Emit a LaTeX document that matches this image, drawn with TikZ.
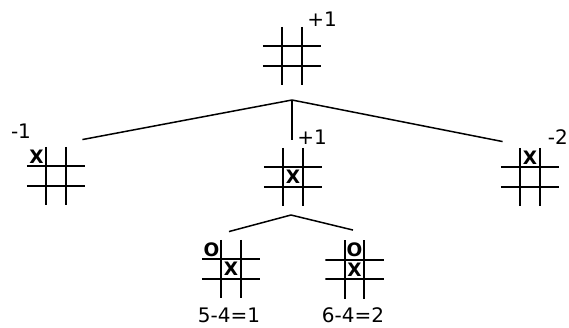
\documentclass[tikz,border=0pt]{standalone}
\usepackage{fontspec}
\setmainfont{DejaVu Sans}
\usetikzlibrary{calc}

\tikzset{
  board/.style={minimum size=58.5pt, inner sep=0pt, path picture={
      \foreach \k in {-1,1} {
        \draw[line width=2pt] ([xshift=\k*9.75pt]path picture bounding box.north)
          -- ([xshift=\k*9.75pt]path picture bounding box.south);
        \draw[line width=2pt] ([yshift=\k*9.75pt]path picture bounding box.west)
          -- ([yshift=\k*9.75pt]path picture bounding box.east);
      }
    }},
  xo/.style={font=\fontsize{18.5}{18.5}\selectfont\bfseries, inner sep=0pt},
  score/.style={font=\fontsize{20}{20}\selectfont, inner sep=0pt},
  branch/.style={line width=1.5pt}
}

\begin{document}
\begin{tikzpicture}[x=1pt, y=-1pt]
  \useasboundingbox (0,0) rectangle (569,327);

  % root
  \node[board] (root) at (292,56) {};
  \node[score] (root-val) at (322,19) {+1};
  \coordinate (split1) at (292,100);

  % first move of X
  \node[board] (corner) at (56,176) {};
  \node[xo] (corner-x) at ($(corner)+(-19.5,-19.5)$) {X};
  \node[score] (corner-val) at (21,131) {-1};

  \node[board] (center) at (293,177) {};
  \node[xo] (center-x) at (center) {X};
  \node[score] (center-val) at (312,137) {+1};

  \node[board] (edge) at (530,177) {};
  \node[xo] (edge-x) at ($(edge)+(0,-19.5)$) {X};
  \node[score, anchor=east] (edge-val) at (568,137) {-2};

  \coordinate (corner-in) at ($(corner.north east)+(-3,-7)$);
  \coordinate (center-in) at ($(center.north)+(-1,-8)$);
  \coordinate (edge-in) at ($(edge.north west)+(2,-6)$);
  \draw[branch] (split1) -- (corner-in);
  \draw[branch] (split1) -- (center-in);
  \draw[branch] (split1) -- (edge-in);

  % replies of O
  \coordinate (split2) at (291,215);

  \node[board] (reply1) at (231,269) {};
  \node[xo] (reply1-o) at ($(reply1)+(-19.5,-19.5)$) {O};
  \node[xo] (reply1-x) at (reply1) {X};
  \node[score] (reply1-val) at (229,315) {5-4=1};

  \node[board] (reply2) at (354.5,269.5) {};
  \node[xo] (reply2-o) at ($(reply2)+(0,-19.5)$) {O};
  \node[xo] (reply2-x) at (reply2) {X};
  \node[score] (reply2-val) at (353,315) {6-4=2};

  \coordinate (reply1-in) at ($(reply1.north)+(-2,-8)$);
  \coordinate (reply2-in) at ($(reply2.north)+(-1.5,-10)$);
  \draw[branch] (split2) -- (reply1-in);
  \draw[branch] (split2) -- (reply2-in);
\end{tikzpicture}
\end{document}
